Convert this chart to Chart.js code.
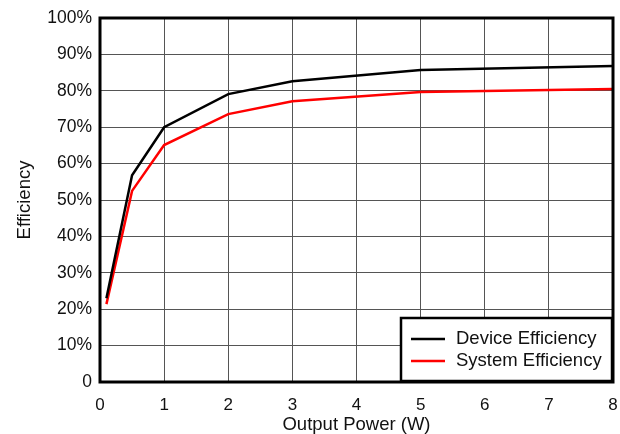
<!DOCTYPE html>
<html>
<head>
<meta charset="utf-8">
<script src="https://cdn.jsdelivr.net/npm/chart.js@4/dist/chart.umd.min.js"></script>
<style>
  html, body { margin: 0; padding: 0; background: #fff; }
  #wrap { width: 620px; height: 434px; }
</style>
</head>
<body>
<div id="wrap"><canvas id="effChart" width="620" height="434"></canvas></div>
<script>
const power = [0.1, 0.5, 1, 2, 3, 5, 8];
const deviceEff = [23, 56.8, 70, 79.1, 82.6, 85.7, 86.8];
const systemEff = [21.4, 52.5, 65.1, 73.6, 77.1, 79.7, 80.5];
const xTicks = [0, 1, 2, 3, 4, 5, 6, 7, 8];
const yTicks = [0, 10, 20, 30, 40, 50, 60, 70, 80, 90, 100];

const fontFamily = "'Liberation Sans', Arial, sans-serif";

function toPoints(xs, ys) {
    return xs.map((x, i) => ({ x: x, y: ys[i] }));
}

// frame around the plot and the boxed legend in the lower right corner
const framePlugin = {
    id: "frame",
    afterDatasetsDraw(chart) {
        const { ctx, chartArea: a } = chart;
        ctx.save();

        // legend box
        const w = 213, h = 65;
        const lx = a.right - w, ly = a.bottom - h;
        ctx.fillStyle = "#fff";
        ctx.fillRect(lx, ly, w, h);
        ctx.lineWidth = 2.5;
        ctx.strokeStyle = "#000";
        ctx.strokeRect(lx + 1, ly + 1, w - 2, h - 2);

        ctx.font = "18.5px " + fontFamily;
        ctx.textBaseline = "middle";
        chart.data.datasets.forEach((ds, i) => {
            const y = ly + 22 + i * 22;
            ctx.strokeStyle = ds.borderColor;
            ctx.lineWidth = 2.5;
            ctx.beginPath();
            ctx.moveTo(lx + 11, y);
            ctx.lineTo(lx + 45, y);
            ctx.stroke();
            ctx.fillStyle = "#111";
            ctx.fillText(ds.label, lx + 56, y);
        });

        // heavy frame
        ctx.lineWidth = 3;
        ctx.strokeStyle = "#000";
        ctx.strokeRect(a.left, a.top, a.right - a.left, a.bottom - a.top);
        ctx.restore();
    }
};

new Chart(document.getElementById("effChart"), {
    type: "line",
    data: {
        datasets: [
            {
                label: "Device Efficiency",
                data: toPoints(power, deviceEff),
                borderColor: "#000000",
                borderWidth: 2.5,
                pointRadius: 0,
                tension: 0
            },
            {
                label: "System Efficiency",
                data: toPoints(power, systemEff),
                borderColor: "#ff0000",
                borderWidth: 2.5,
                pointRadius: 0,
                tension: 0
            }
        ]
    },
    options: {
        responsive: false,
        animation: false,
        layout: { padding: { top: 18, right: 7, left: 0, bottom: 0 } },
        plugins: {
            legend: { display: false },
            tooltip: { enabled: false }
        },
        scales: {
            x: {
                type: "linear",
                min: 0,
                max: 8,
                afterBuildTicks: (s) => { s.ticks = xTicks.map(v => ({ value: v })); },
                ticks: {
                    color: "#111",
                    font: { family: fontFamily, size: 17 },
                    padding: 13
                },
                grid: { color: "#555", lineWidth: 1, drawTicks: false },
                border: { display: false },
                title: {
                    display: true,
                    text: "Output Power (W)",
                    color: "#111",
                    font: { family: fontFamily, size: 18.5, lineHeight: 1 },
                    padding: { top: 0, bottom: 0 }
                },
                afterFit: (s) => {
                    s.height = 52;
                    s.paddingLeft = 0;
                    s.paddingRight = 0;
                }
            },
            y: {
                min: 0,
                max: 100,
                afterBuildTicks: (s) => { s.ticks = yTicks.map(v => ({ value: v })); },
                ticks: {
                    color: "#111",
                    font: { family: fontFamily, size: 17.5 },
                    padding: 8,
                    callback: (v) => v === 0 ? "0" : v + "%"
                },
                grid: { color: "#555", lineWidth: 1, drawTicks: false },
                border: { display: false },
                title: {
                    display: true,
                    text: "Efficiency",
                    color: "#111",
                    font: { family: fontFamily, size: 18.5, lineHeight: 1 },
                    padding: { top: 16, bottom: 0 }
                },
                afterFit: (s) => {
                    s.width = 100;
                    s.paddingTop = 0;
                    s.paddingBottom = 0;
                }
            }
        }
    },
    plugins: [framePlugin]
});
</script>
</body>
</html>
